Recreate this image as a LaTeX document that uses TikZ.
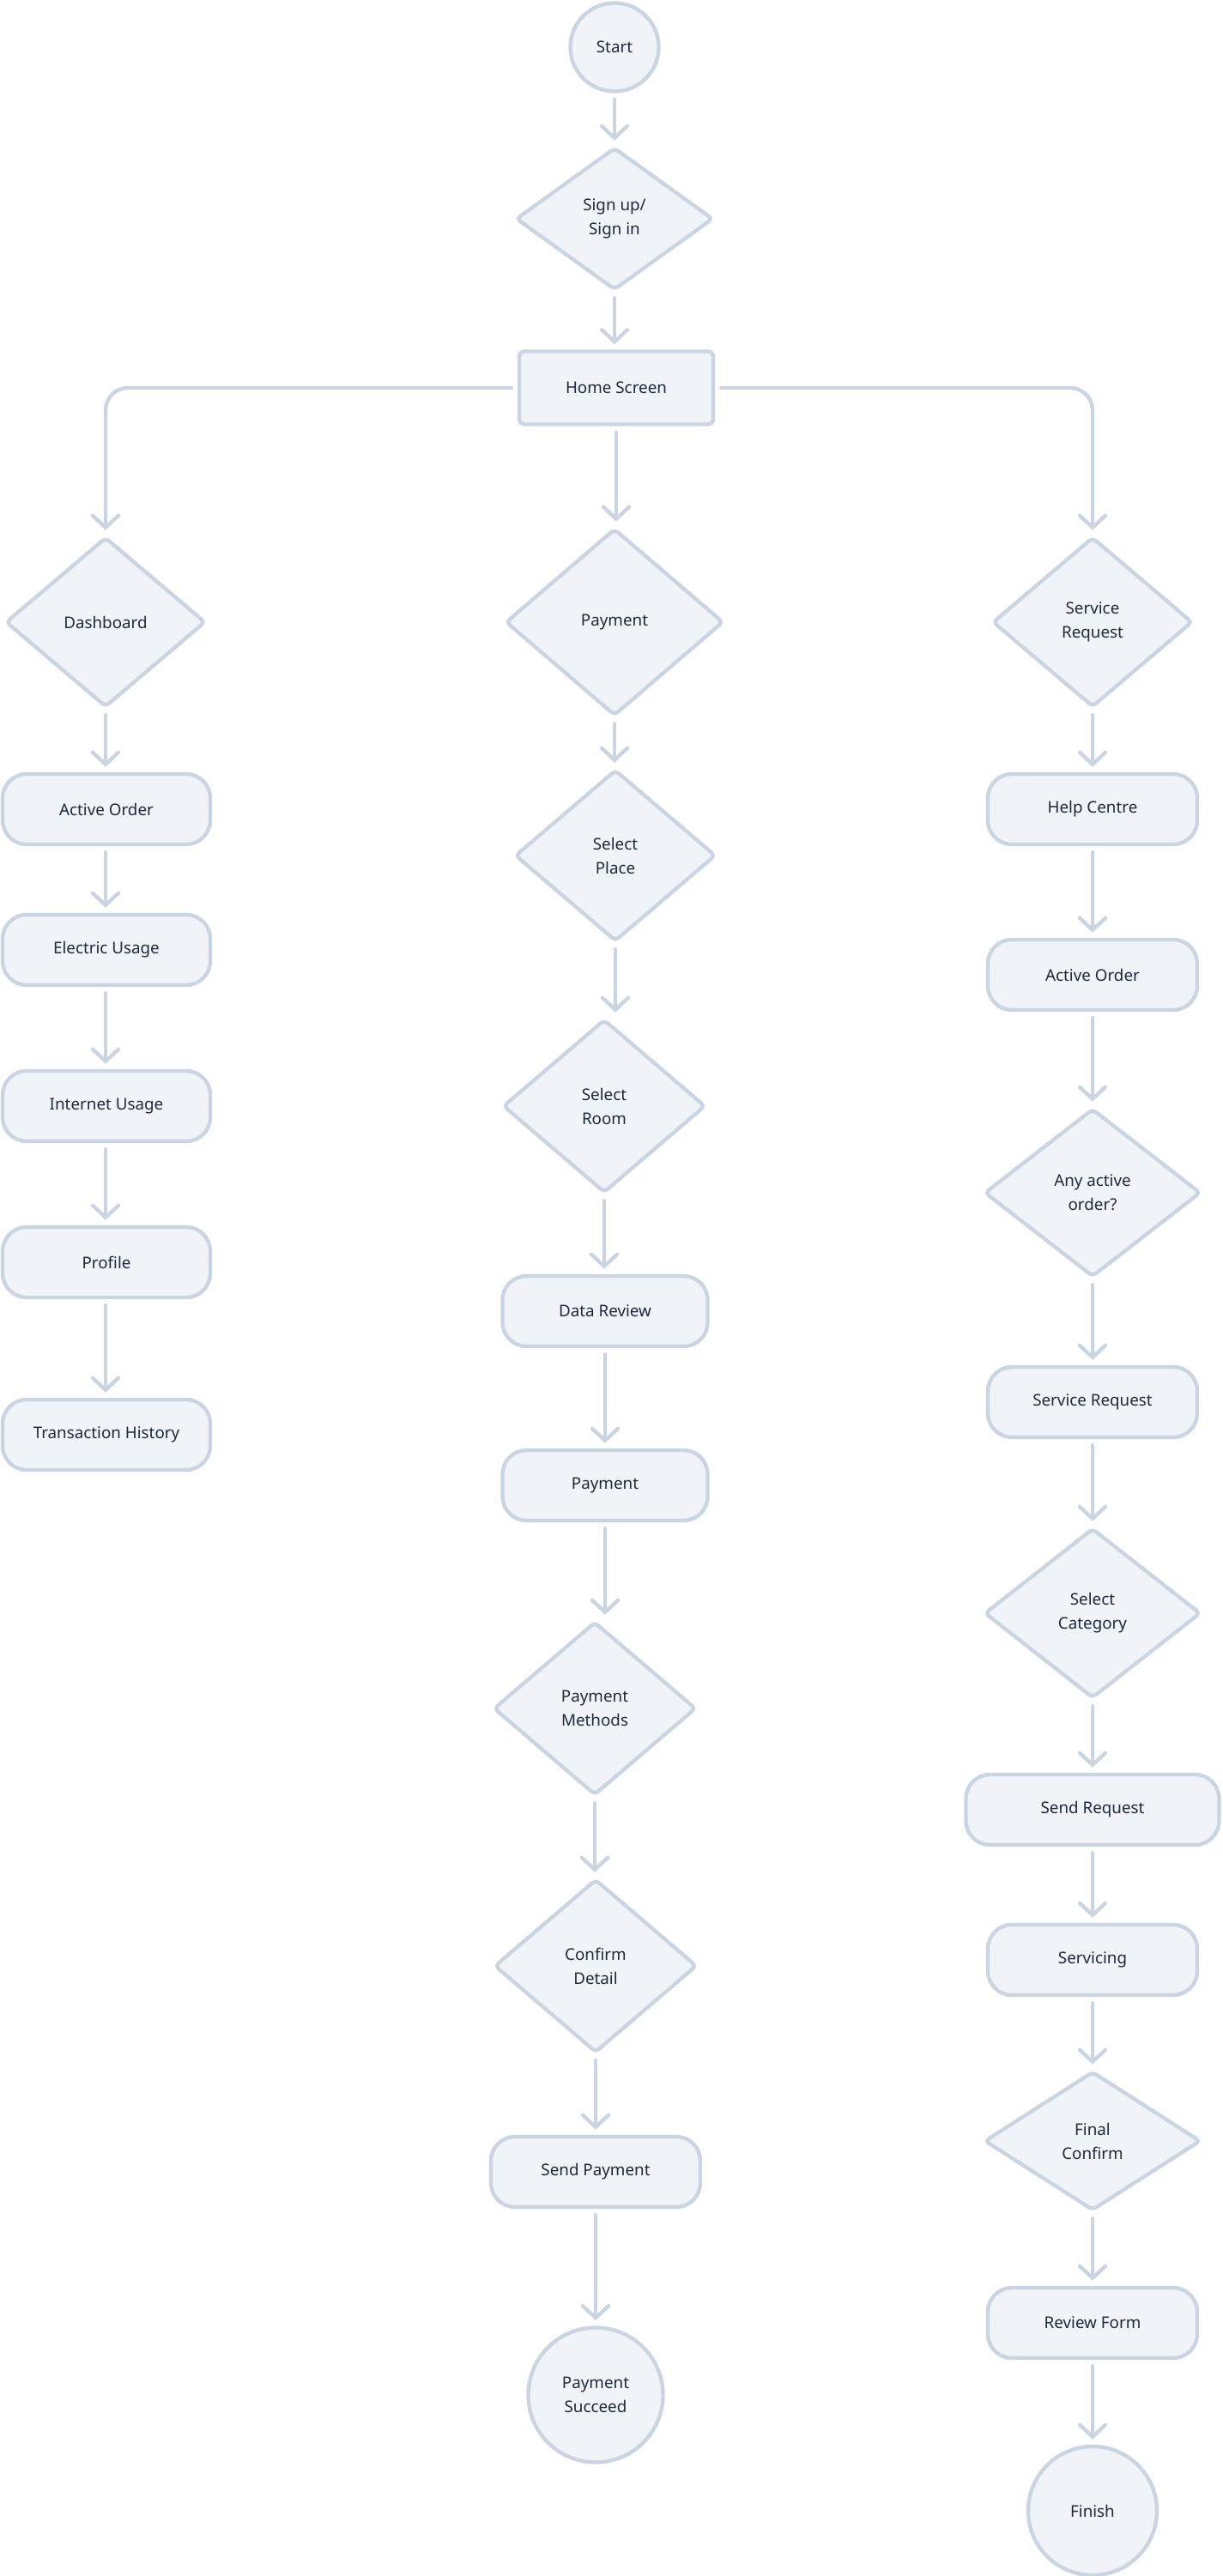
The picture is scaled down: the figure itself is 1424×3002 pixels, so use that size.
\documentclass[tikz,border=0pt]{standalone}
\usepackage{fontspec}
\setmainfont{Noto Sans}
\usetikzlibrary{shapes.geometric,arrows.meta}

\definecolor{edge}{HTML}{CBD5E1}
\definecolor{paper}{HTML}{F0F3F8}
\definecolor{ink}{HTML}{1E293B}

\tikzset{
  base/.style={draw=edge, fill=paper, line width=2.2pt, text=ink, align=center,
    font=\fontsize{9.4}{14}\selectfont, inner sep=0pt},
  terminal/.style={base, circle, minimum size=#1},
  decision/.style={base, diamond, rounded corners=2.5pt},
  pill/.style={base, rectangle, rounded corners=14pt, minimum width=#1, minimum height=41pt},
  pill/.default=121pt,
  flow/.style={draw=edge, line width=2.2pt, line cap=round, line join=round,
    -{Straight Barb[length=7pt, width=15pt, line cap=round]},
    shorten <=3.5pt, shorten >=3pt}
}

\begin{document}
\begin{tikzpicture}[x=0.5pt, y=-0.5pt]

    % page frame (pixels of the reference)
    \useasboundingbox (0,0) rectangle (1424,3002);

    % top of the flow
    \node[terminal=51.5pt] (start) at (716,55) {Start};
    \node[decision, minimum width=115pt, minimum height=83pt] (sign) at (716,255) {Sign up/\\Sign in};
    \node[base, rectangle, rounded corners=3pt, minimum width=113pt, minimum height=42.5pt] (home) at (718,452) {Home Screen};

    % three branches
    \node[decision, minimum width=116.5pt, minimum height=99pt] (dash) at (123,725) {Dashboard};
    \node[decision, minimum width=127pt, minimum height=109pt] (pay) at (716,725) {Payment};
    \node[decision, minimum width=116.5pt, minimum height=99pt] (serv) at (1273,725) {Service\\Request};

    % left column
    \node[pill] (lorder) at (124,943) {Active Order};
    \node[pill] (elec) at (124,1107) {Electric Usage};
    \node[pill] (inet) at (124,1289) {Internet Usage};
    \node[pill] (prof) at (124,1471) {Profile};
    \node[pill] (hist) at (124,1672) {Transaction History};

    % middle column
    \node[decision, minimum width=117pt, minimum height=100pt] (place) at (717,997) {Select\\Place};
    \node[decision, minimum width=118pt, minimum height=101pt] (room) at (704,1289) {Select\\Room};
    \node[pill=119.5pt] (review) at (705,1528) {Data Review};
    \node[pill=119.5pt] (paybox) at (705,1731) {Payment};
    \node[decision, minimum width=118pt, minimum height=101pt] (method) at (693,1991) {Payment\\Methods};
    \node[decision, minimum width=118pt, minimum height=101pt] (detail) at (694,2291) {Confirm\\Detail};
    \node[pill=122pt] (spay) at (694,2531) {Send Payment};
    \node[terminal=78.5pt] (done) at (694,2791) {Payment\\Succeed};

    % right column
    \node[pill=122pt] (help) at (1273,943) {Help Centre};
    \node[pill=122pt] (rorder) at (1273,1136) {Active Order};
    \node[decision, minimum width=126pt, minimum height=98pt] (anyord) at (1273,1390) {Any active\\order?};
    \node[pill=122pt] (sreq) at (1273,1634) {Service Request};
    \node[decision, minimum width=126pt, minimum height=99pt] (cat) at (1273,1880) {Select\\Category};
    \node[pill=147.5pt] (send) at (1273,2109) {Send Request};
    \node[pill=122pt] (servicing) at (1273,2284) {Servicing};
    \node[decision, minimum width=126pt, minimum height=81pt] (final) at (1273,2495) {Final\\Confirm};
    \node[pill=122pt] (form) at (1273,2707) {Review Form};
    \node[terminal=75pt] (finish) at (1273,2926) {Finish};

    % connectors
    \draw[flow] (start.south) -- (sign.north);
    \draw[flow] (sign.south) -- (sign.south |- home.north);
    \draw[flow, rounded corners=13pt] (home.west) -| (dash.north);
    \draw[flow] (home.south) -- (home.south |- pay.north);
    \draw[flow, rounded corners=13pt] (home.east) -| (serv.north);

    \draw[flow] (dash.south) -- (dash.south |- lorder.north);
    \draw[flow] (lorder.south -| dash.south) -- (elec.north -| dash.south);
    \draw[flow] (elec.south -| dash.south) -- (inet.north -| dash.south);
    \draw[flow] (inet.south -| dash.south) -- (prof.north -| dash.south);
    \draw[flow] (prof.south -| dash.south) -- (hist.north -| dash.south);

    \draw[flow] (pay.south) -- (pay.south |- place.north);
    \draw[flow] (place.south) -- (place.south |- room.north);
    \draw[flow] (room.south) -- (room.south |- review.north);
    \draw[flow] (review.south) -- (review.south |- paybox.north);
    \draw[flow] (paybox.south) -- (paybox.south |- method.north);
    \draw[flow] (method.south) -- (method.south |- detail.north);
    \draw[flow] (detail.south) -- (detail.south |- spay.north);
    \draw[flow] (spay.south) -- (spay.south |- done.north);

    \draw[flow] (serv.south) -- (help.north);
    \draw[flow] (help.south) -- (rorder.north);
    \draw[flow] (rorder.south) -- (anyord.north);
    \draw[flow] (anyord.south) -- (sreq.north);
    \draw[flow] (sreq.south) -- (cat.north);
    \draw[flow] (cat.south) -- (send.north);
    \draw[flow] (send.south) -- (servicing.north);
    \draw[flow] (servicing.south) -- (final.north);
    \draw[flow] (final.south) -- (form.north);
    \draw[flow] (form.south) -- (finish.north);

\end{tikzpicture}
\end{document}
